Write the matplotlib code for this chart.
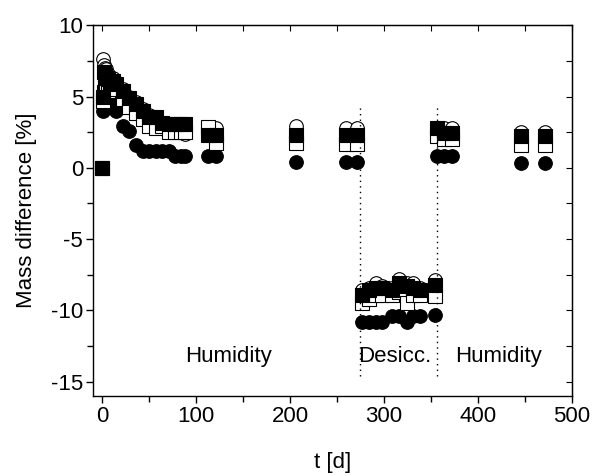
import numpy as np
import matplotlib
matplotlib.use("Agg")
import matplotlib.pyplot as plt
from matplotlib.ticker import MultipleLocator

plt.rcParams['font.family'] = ['Liberation Sans', 'DejaVu Sans']
plt.rcParams['axes.unicode_minus'] = False

# storage time [d]
t = [0, 1, 2, 3, 4, 6, 8, 11, 15, 22, 29, 36, 43, 50, 57, 64, 71, 78, 84, 88,
     113, 121, 206, 260, 271,
     277, 284, 291, 298, 309, 316, 324, 331, 338, 354,
     356, 364, 372, 446, 472]

# mass difference [%] of the four samples
open_circle = [0, 7.6, 7.2, 7.0, 6.9, 6.6, 6.4, 6.3, 6.0, 5.5, 5.0, 4.6, 4.1, 3.7, 3.4, 3.1, 3.0, 2.8, 2.6, 2.4,
               2.8, 2.8, 2.9, 2.8, 2.8,
               -8.6, -8.4, -8.1, -8.3, -8.4, -7.8, -8.1, -8.1, -8.4, -7.85,
               2.8, 2.8, 2.8, 2.5, 2.5]
filled_circle = [0, 4.0, 5.2, 5.5, 5.3, 5.0, 4.8, 4.6, 4.0, 2.9, 2.6, 1.6, 1.2, 1.2, 1.2, 1.2, 1.2, 0.85, 0.85, 0.85,
                 0.8, 0.8, 0.42, 0.42, 0.42,
                 -10.8, -10.8, -10.8, -10.8, -10.4, -10.4, -10.8, -10.4, -10.4, -10.3,
                 0.85, 0.85, 0.85, 0.35, 0.35]
open_square = [0, 4.7, 5.3, 5.6, 5.5, 5.4, 5.6, 5.6, 5.5, 4.8, 4.3, 3.85, 3.4, 2.9, 2.8, 2.9, 2.5, 2.5, 2.5, 2.5,
               2.85, 1.75, 1.75, 1.7, 1.7,
               -9.5, -9.2, -8.9, -8.9, -8.9, -8.7, -9.5, -8.9, -8.9, -9.0,
               2.2, 2.0, 2.0, 1.6, 1.6]
filled_square = [0, 5.0, 6.7, 6.5, 6.3, 6.2, 6.0, 6.1, 5.9, 5.4, 4.9, 4.5, 4.0, 3.6, 3.6, 3.15, 3.1, 3.1, 3.1, 3.1,
                 2.3, 2.3, 2.3, 2.3, 2.3,
                 -8.9, -8.6, -8.4, -8.4, -8.6, -8.1, -8.3, -8.4, -8.6, -8.2,
                 2.8, 2.45, 2.45, 2.2, 2.2]

# phase boundaries and labels
phase_lines = [275, 356]
phase_names = ["Humidity", "Desicc.", "Humidity"]
phase_x = [135, 311, 422]

fig = plt.figure(figsize=(5.95, 4.76), dpi=100)
ax = fig.add_axes([0.156, 0.168, 0.805, 0.779])

ms = 9.8
ax.plot(t, filled_circle, "o", ms=ms, mfc="k", mec="k", mew=0.8, ls="none")
ax.plot(t, open_circle, "o", ms=ms, mfc="w", mec="k", mew=0.8, ls="none")
ax.plot(t, open_square, "s", ms=ms, mfc="w", mec="k", mew=0.8, ls="none")
ax.plot(t, filled_square, "s", ms=ms, mfc="k", mec="k", mew=0.8, ls="none")

ax.vlines(phase_lines, -14.6, 4.4, colors="k", linestyles=(0, (1, 3)), lw=1)

for name, x in zip(phase_names, phase_x):
    ax.text(x, -13.2, name, ha="center", va="center", fontsize=16)

ax.set_xlim(-10, 500)
ax.set_ylim(-16, 10)
ax.xaxis.set_major_locator(MultipleLocator(100))
ax.xaxis.set_minor_locator(MultipleLocator(50))
ax.yaxis.set_major_locator(MultipleLocator(5))
ax.yaxis.set_minor_locator(MultipleLocator(2.5))
ax.tick_params(which="both", direction="out", labelsize=16, width=1, pad=2,
               top=False, right=False)
ax.tick_params(which="major", length=5)
ax.tick_params(which="minor", length=4)

# inward ticks on the top and right frame
sx = ax.secondary_xaxis("top")
sx.xaxis.set_major_locator(MultipleLocator(50))
sx.tick_params(direction="in", length=4, labeltop=False)
sy = ax.secondary_yaxis("right")
sy.yaxis.set_major_locator(MultipleLocator(2.5))
sy.tick_params(direction="in", length=4, labelright=False)

for s in ax.spines.values():
    s.set_linewidth(1)

ax.set_xlabel("t [d]", fontsize=16, labelpad=18)
ax.set_ylabel("Mass difference [%]", fontsize=16, labelpad=10)

fig.savefig("out.png", dpi=100)
